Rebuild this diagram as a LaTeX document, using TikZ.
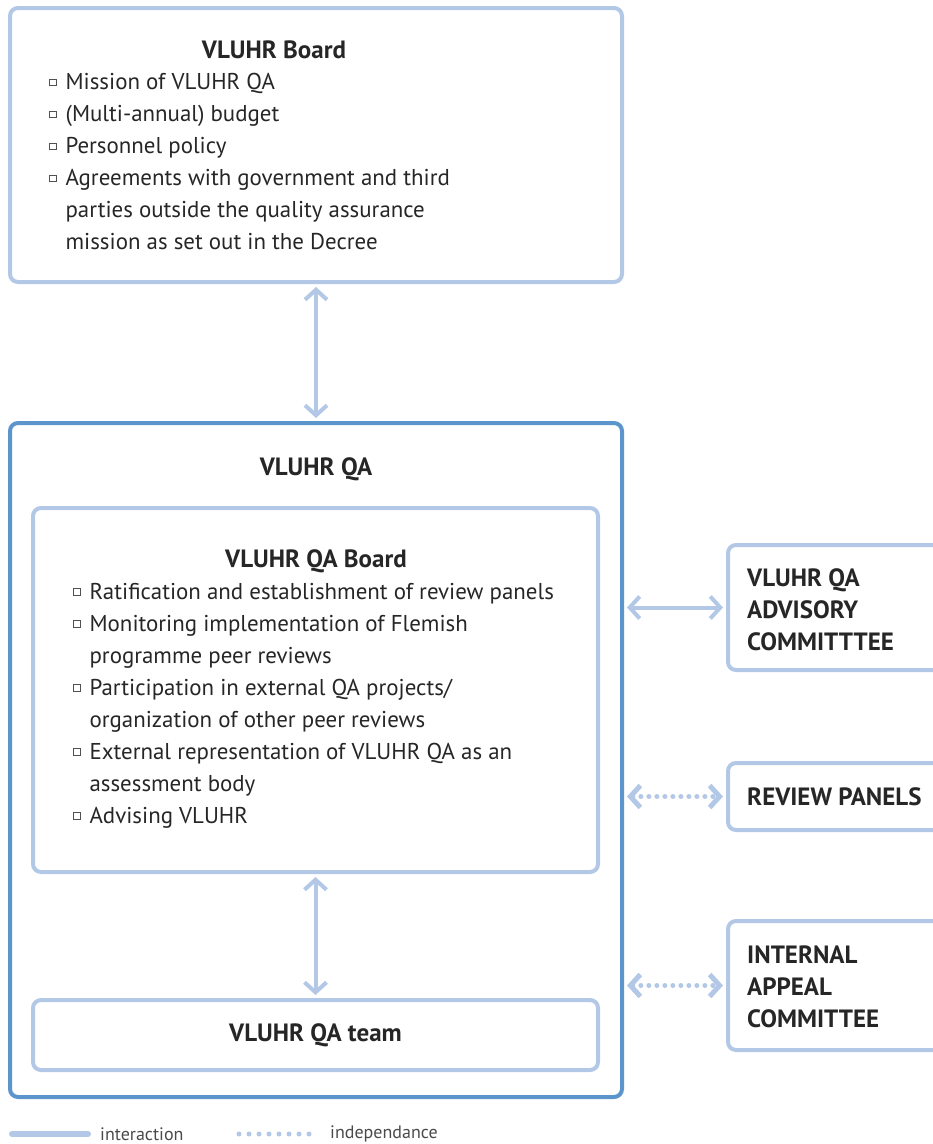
\documentclass[tikz,border=0pt]{standalone}
\usepackage{fontspec}
\setmainfont{PT Sans}
\usetikzlibrary{arrows.meta,positioning,calc}

\definecolor{lightblue}{HTML}{B3C8E6}
\definecolor{darkblue}{HTML}{5B95CB}
\definecolor{txtcol}{HTML}{262626}
\definecolor{legcol}{HTML}{4A4A4A}

\newcommand\sqbul{\tikz[baseline=0pt]\draw[line width=0.9pt,draw=txtcol!80] (0pt,4pt) rectangle (6.5pt,10.5pt);\hspace{9pt}}
\newcommand\hang{\hphantom{\sqbul}}

\begin{document}
\begin{tikzpicture}[x=1pt,y=-1pt,
	lbox/.style={draw=lightblue,line width=4pt,rounded corners=8pt,inner sep=0pt},
	dbox/.style={draw=darkblue,line width=4pt,rounded corners=8pt,inner sep=0pt},
	title/.style={font=\fontsize{25}{32}\selectfont\bfseries,text=txtcol,inner sep=0pt},
	rtitle/.style={title,align=left,anchor=west},
	items/.style={font=\fontsize{22.9}{32}\selectfont,text=txtcol,align=left,inner sep=0pt,anchor=north west},
	legend/.style={font=\fontsize{18}{20}\selectfont,text=legcol,inner sep=0pt,anchor=west},
	link/.style={lightblue,line width=4pt,{Straight Barb[length=10pt,width=22pt]}-{Straight Barb[length=10pt,width=22pt]},shorten <=3pt,shorten >=3pt},
	indep/.style={link,line width=5pt,line cap=round,dash pattern=on 0pt off 8pt}]
	\useasboundingbox (0,0) rectangle (933,1144);
	\clip (0,0) rectangle (933,1144);
	
	\node[lbox,minimum width=612,minimum height=274] (board) at (316,145) {};
	\node[title] (boardtitle) at (274,50) {VLUHR Board};
	\node[items] (boardlist) at (49,73) {\sqbul Mission of VLUHR QA\\
		\sqbul (Multi-annual) budget\\
		\sqbul Personnel policy\\
		\sqbul Agreements with government and third\\
		\hang parties outside the quality assurance\\
		\hang mission as set out in the Decree};
	
	\node[dbox,minimum width=612,minimum height=674] (qa) at (316,760) {};
	\node[title] (qatitle) at (316,469) {VLUHR QA};
	
	\node[lbox,minimum width=565,minimum height=364] (qaboard) at (315.5,690) {};
	\node[title] (qaboardtitle) at (316,561) {VLUHR QA Board};
	\node[items] (qaboardlist) at (73,583) {\sqbul Ratification and establishment of review panels\\
		\sqbul Monitoring implementation of Flemish\\
		\hang programme peer reviews\\
		\sqbul Participation in external QA projects/\\
		\hang organization of other peer reviews\\
		\sqbul External representation of VLUHR QA as an\\
		\hang assessment body\\
		\sqbul Advising VLUHR};
	
	\node[lbox,title,minimum width=565,minimum height=70] (team) at (315.5,1035) {VLUHR QA team};
	
	\node[lbox,minimum width=232,minimum height=125] (adv) at (844,607.5) {};
	\node[rtitle] (advtext) at (747,610) {VLUHR QA\\ADVISORY\\COMMITTTEE};
	\node[lbox,minimum width=232,minimum height=67] (rev) at (844,796.5) {};
	\node[rtitle] (revtext) at (747,797) {REVIEW PANELS};
	\node[lbox,minimum width=232,minimum height=129] (app) at (844,985.5) {};
	\node[rtitle] (apptext) at (747,987) {INTERNAL\\APPEAL\\COMMITTEE};
	
	\draw[link] (board) -- (qa);
	\draw[link] (qaboard) -- (team);
	\draw[link] (qa.east |- adv.west) -- (adv.west);
	\draw[indep] (qa.east |- rev.west) -- (rev.west);
	\draw[indep] (qa.east |- app.west) -- (app.west);
	
	\coordinate (solida) at (12,1134);
	\coordinate (solidb) at (88,1134);
	\draw[lightblue,line width=6pt,line cap=round] (solida) -- (solidb);
	\node[legend] (interaction) at (100,1134) {interaction};
	\coordinate (dota) at (239,1134);
	\coordinate (dotb) at (319,1134);
	\draw[lightblue,line width=5pt,line cap=round,dash pattern=on 0pt off 10pt] (dota) -- (dotb);
	\node[legend] (independance) at (330,1134) {independance};
\end{tikzpicture}
\end{document}
